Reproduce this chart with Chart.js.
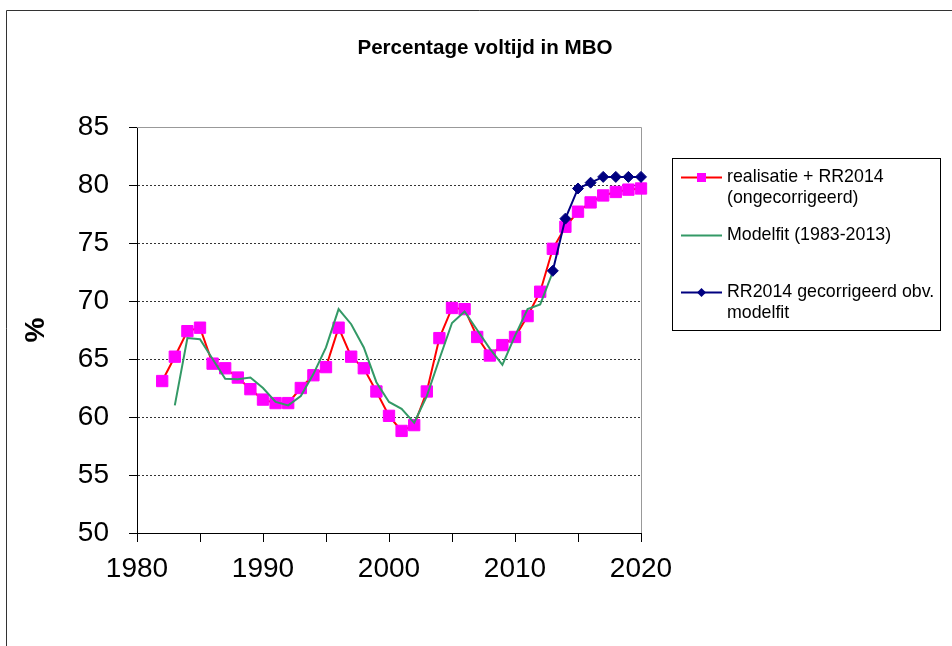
<!DOCTYPE html>
<html>
<head>
<meta charset="utf-8">
<script src="https://cdn.jsdelivr.net/npm/chart.js@4.4.1/dist/chart.umd.min.js"></script>
<style>
  html, body { margin: 0; padding: 0; background: #fff; }
  #wrap { position: relative; width: 952px; height: 646px; }
</style>
</head>
<body>
<div id="wrap"><canvas id="chart" width="952" height="646"></canvas></div>
<script>
const FONT = '"Liberation Sans", Arial, Helvetica, sans-serif';

// jaren en waarden
const jarenRealisatie = [1982, 1983, 1984, 1985, 1986, 1987, 1988, 1989, 1990, 1991,
  1992, 1993, 1994, 1995, 1996, 1997, 1998, 1999, 2000, 2001, 2002, 2003, 2004, 2005,
  2006, 2007, 2008, 2009, 2010, 2011, 2012, 2013, 2014, 2015, 2016, 2017, 2018, 2019, 2020];
const realisatie = [63.1, 65.2, 67.4, 67.7, 64.6, 64.2, 63.4, 62.4, 61.5, 61.2,
  61.2, 62.5, 63.6, 64.3, 67.7, 65.2, 64.2, 62.2, 60.1, 58.8, 59.3, 62.2, 66.8, 69.4,
  69.3, 66.9, 65.3, 66.2, 66.9, 68.7, 70.8, 74.5, 76.4, 77.7, 78.5, 79.1, 79.4, 79.6, 79.7];

const jarenModelfit = [1983, 1984, 1985, 1986, 1987, 1988, 1989, 1990, 1991, 1992,
  1993, 1994, 1995, 1996, 1997, 1998, 1999, 2000, 2001, 2002, 2003, 2004, 2005, 2006,
  2007, 2008, 2009, 2010, 2011, 2012, 2013];
const modelfit = [61.0, 66.8, 66.7, 65.0, 63.3, 63.25, 63.4, 62.5, 61.3, 61.0,
  61.8, 63.7, 66.0, 69.3, 68.0, 66.0, 63.0, 61.3, 60.7, 59.5, 61.8, 65.0, 68.1, 69.1,
  67.5, 65.9, 64.5, 67.0, 69.3, 69.7, 72.5];

const jarenGecorrigeerd = [2013, 2014, 2015, 2016, 2017, 2018, 2019, 2020];
const gecorrigeerd = [72.6, 77.1, 79.7, 80.2, 80.7, 80.7, 80.7, 80.7];

const titel = "Percentage voltijd in MBO";
const legendaTeksten = [
  ["realisatie + RR2014", "(ongecorrigeerd)"],
  ["Modelfit (1983-2013)"],
  ["RR2014 gecorrigeerd obv.", "modelfit"]
];

const punten = (xs, ys) => xs.map((x, i) => ({ x, y: ys[i] }));

// kader, titel en legenda zoals in het origineel
const extraPlugin = {
  id: "extra",
  beforeDatasetsDraw(chart) {
    const { ctx, chartArea: a } = chart;
    ctx.save();
    ctx.strokeStyle = "#999";
    ctx.lineWidth = 1;
    ctx.beginPath();
    ctx.moveTo(a.left, a.top + 0.5);
    ctx.lineTo(a.right + 0.5, a.top + 0.5);
    ctx.lineTo(a.right + 0.5, a.bottom);
    ctx.stroke();
    ctx.restore();
  },
  afterDraw(chart) {
    const { ctx } = chart;
    ctx.save();
    // buitenkader
    ctx.strokeStyle = "#333";
    ctx.lineWidth = 1;
    ctx.beginPath();
    ctx.moveTo(6.5, 646);
    ctx.lineTo(6.5, 10.5);
    ctx.lineTo(952, 10.5);
    ctx.stroke();

    // titel
    ctx.fillStyle = "#000";
    ctx.font = "bold 20.6px " + FONT;
    ctx.textAlign = "center";
    ctx.textBaseline = "alphabetic";
    ctx.fillText(titel, 485, 54);

    // legenda
    ctx.strokeStyle = "#000";
    ctx.strokeRect(672.5, 158.5, 268, 172);
    const rijen = [[177.5, 198], [235.5], [292.5, 313]];
    const ds = chart.data.datasets;
    ctx.font = "17.8px " + FONT;
    ctx.textAlign = "left";
    ctx.textBaseline = "middle";
    rijen.forEach((ys, i) => {
      const d = ds[i];
      const y = ys[0];
      ctx.strokeStyle = d.borderColor;
      ctx.lineWidth = 2;
      ctx.beginPath();
      ctx.moveTo(681, y);
      ctx.lineTo(722, y);
      ctx.stroke();
      if (d.pointRadius > 0) {
        ctx.fillStyle = d.pointBackgroundColor;
        if (d.pointStyle === "rect") {
          ctx.fillRect(697, y - 4.5, 9, 9);
        } else {
          ctx.beginPath();
          ctx.moveTo(701.5, y - 4.5);
          ctx.lineTo(706, y);
          ctx.lineTo(701.5, y + 4.5);
          ctx.lineTo(697, y);
          ctx.closePath();
          ctx.fill();
        }
      }
      ctx.fillStyle = "#000";
      legendaTeksten[i].forEach((t, j) => ctx.fillText(t, 727, ys[j]));
    });
    ctx.restore();
  }
};

const chart = new Chart(document.getElementById("chart"), {
  type: "line",
  data: {
    datasets: [
      {
        label: legendaTeksten[0].join(" "),
        data: punten(jarenRealisatie, realisatie),
        borderColor: "#ff0000",
        borderWidth: 2,
        pointStyle: "rect",
        pointRadius: 8,
        pointBorderWidth: 1,
        pointBackgroundColor: "#ff00ff",
        pointBorderColor: "#ff00ff",
        order: 2,
        clip: false
      },
      {
        label: legendaTeksten[1].join(" "),
        data: punten(jarenModelfit, modelfit),
        borderColor: "#339966",
        borderWidth: 2,
        pointRadius: 0,
        order: 1,
        clip: false
      },
      {
        label: legendaTeksten[2].join(" "),
        data: punten(jarenGecorrigeerd, gecorrigeerd),
        borderColor: "#000080",
        borderWidth: 2,
        pointStyle: "rectRot",
        pointRadius: 5.5,
        pointBorderWidth: 1,
        pointBackgroundColor: "#000080",
        pointBorderColor: "#000080",
        order: 0,
        clip: false
      }
    ]
  },
  options: {
    responsive: false,
    animation: false,
    events: [],
    layout: { padding: { left: 0, top: 127, right: 311, bottom: 0 } },
    plugins: {
      legend: { display: false },
      title: { display: false },
      tooltip: { enabled: false }
    },
    scales: {
      x: {
        type: "linear",
        min: 1980,
        max: 2020,
        ticks: {
          stepSize: 5,
          autoSkip: false,
          maxRotation: 0,
          color: "#000",
          padding: 10,
          font: { family: FONT, size: 28 },
          callback: v => (v % 10 === 0 ? String(v) : "")
        },
        grid: { drawOnChartArea: false, tickLength: 9, tickColor: "#000" },
        border: { color: "#000", width: 1 },
        afterFit: s => { s.height = 113; }
      },
      y: {
        min: 50,
        max: 85,
        ticks: {
          stepSize: 5,
          color: "#000",
          padding: 20,
          font: { family: FONT, size: 28 }
        },
        grid: {
          color: c => (c.tick && (c.tick.value === 50 || c.tick.value === 85) ? "rgba(0,0,0,0)" : "#333"),
          tickColor: "#000",
          tickLength: 8,
          lineWidth: 1
        },
        border: { color: "#000", width: 1, dash: [2, 2] },
        title: {
          display: true,
          text: "%",
          color: "#000",
          font: { family: FONT, size: 28, weight: "bold" },
          padding: { top: 19, bottom: 0 }
        },
        afterFit: s => { s.width = 137; }
      }
    }
  },
  plugins: [extraPlugin]
});
</script>
</body>
</html>
